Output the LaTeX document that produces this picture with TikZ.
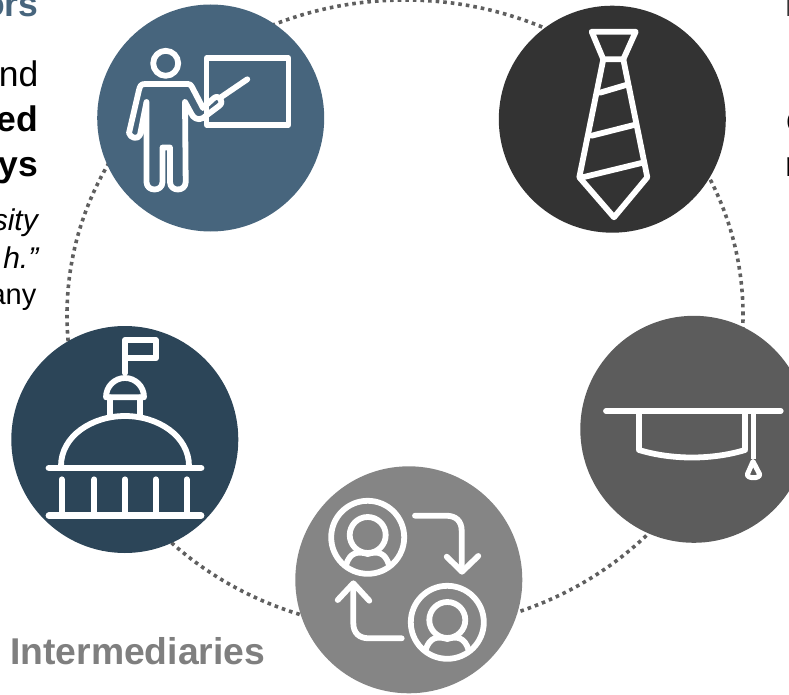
\documentclass[tikz,border=0pt]{standalone}
\usepackage{fontspec}
\setmainfont{Liberation Sans}
\definecolor{cteach}{HTML}{47657D}
\definecolor{ctie}{HTML}{333333}
\definecolor{ccap}{HTML}{5C5C5C}
\definecolor{cpers}{HTML}{858585}
\definecolor{cdome}{HTML}{2C4558}
\definecolor{cring}{HTML}{5F5F5F}
\definecolor{cinter}{HTML}{7F7F7F}
\tikzset{
  disc/.style={circle,inner sep=0pt,minimum size=227pt,fill=#1},
  ring/.style={draw=cring,line width=3.6pt,dash pattern=on 3.6pt off 4pt},
  icon/.style={draw=white,line width=5.8pt,line cap=round,line join=round},
  cut/.style={inner sep=0pt,anchor=base east},
  cutl/.style={inner sep=0pt,anchor=base west},
  big/.style={font=\fontsize{35.5}{35.5}\selectfont},
  bigb/.style={font=\fontsize{35.5}{35.5}\selectfont\bfseries},
  ital/.style={font=\fontsize{30}{30}\selectfont\itshape},
  small/.style={font=\fontsize{29}{29}\selectfont},
}
\begin{document}
\begin{tikzpicture}[x=1pt,y=-1pt]
\useasboundingbox (0,0) rectangle (789,695);
\clip (0,0) rectangle (789,695);
% ring
\draw[ring] (405,315) ellipse [x radius=338pt,y radius=315pt];
% discs
\node[disc=cteach] (teach) at (210.7,118) {};
\node[disc=ctie] (tie) at (612.3,119.2) {};
\node[disc=cdome] (dome) at (124.8,439.5) {};
\node[disc=cpers] (pers) at (408.8,579.8) {};
\node[disc=ccap] (cap) at (693.8,429.3) {};
% text
\node[cut,bigb,text=cteach] (t1) at (38.5,17) {ors};
\node[cut,big,text=black] (t2) at (38.5,87) {nd};
\node[cut,bigb,text=black] (t3) at (38.5,132) {ed};
\node[cut,bigb,text=black] (t4) at (38.5,177) {ys};
\node[cut,ital,text=black] (t5) at (38,230) {sity};
\node[cut,ital,text=black] (t6) at (38.5,268) {h.”};
\node[cut,small,text=black] (t7) at (36.5,304) {any};
\node[inner sep=0pt,anchor=base west,text=cinter,font=\fontsize{37.3}{37.3}\selectfont\bfseries] (t8) at (10,664) {Intermediaries};
\node[cutl,bigb,text=ctie] (r1) at (785,17) {I};
\node[cutl,big,text=black] (r2) at (786,132) {c};
\node[cutl,big,text=black] (r3) at (785,177) {r};
% teacher
\draw[icon] (165.7,63.3) circle [radius=12.5pt];
\draw[icon,line width=5.2pt] (206.5,58) rectangle (288.5,125);
\draw[icon] (247.3,79.3) -- (221.7,96.7);
\draw[icon] (185,102) -- (185.7,182) .. controls (185.7,192) and (170,192) .. (170,182) -- (170,147.5) -- (162.5,147.5) -- (162.5,182) .. controls (162.5,192) and (146.5,192) .. (146.5,182) -- (146.5,102) -- (140,135) .. controls (138,140) and (130,138) .. (129,133) -- (139,90) .. controls (140,86) and (141,84) .. (145,84) -- (188,84) .. controls (190,84) and (191,85) .. (192,87) -- (203,108) -- (214,98) .. controls (219,94) and (225,102) .. (219,106) -- (203,118) .. controls (198,121) and (193,118) .. (191,113) -- cycle;
% tie
\draw[icon] (591.7,31.7) -- (635.7,31.7) -- (623.3,59.3) -- (603.3,59.3) -- cycle;
\draw[icon] (603.3,59.3) -- (579.3,177.3) -- (614,217.3) -- (647.3,177.3) -- (623.3,59.3);
\draw[icon] (600,92.7) -- (626,85);
\draw[icon] (591.7,135.7) -- (634,125);
\draw[icon] (582.7,177.3) -- (642.7,162.7);
% capitol
\draw[icon] (125,373) -- (125,340) -- (156,340) -- (156,358.3) -- (125,358.3);
\draw[icon] (106,397.3) .. controls (106,386) and (115,378) .. (125,378) .. controls (135,378) and (144,386) .. (144,397.3) -- cycle;
\draw[icon] (110,397.3) -- (110,415);
\draw[icon] (140,397.3) -- (140,415);
\draw[icon] (61,466) .. controls (61,436) and (92,416) .. (125,416) .. controls (158,416) and (189,436) .. (189,466);
\draw[icon,line width=6.8pt] (49,468) -- (201,468);
\draw[icon,line width=6.8pt] (49,515.7) -- (201,515.7);
\foreach \cx in {61.7,94.3,125,155.7,186.7} \draw[icon] (\cx,479.3) -- (\cx,515);
% persons
\draw[icon] (367.7,537.3) circle [radius=36.5pt];
\draw[icon] (367.7,535) circle [radius=18pt];
\draw[icon] (346,565) .. controls (350,552) and (358,551) .. (367.7,554) .. controls (377,551) and (385,552) .. (389,565);
\draw[icon] (447.3,622.3) circle [radius=36.5pt];
\draw[icon] (447.3,620) circle [radius=18pt];
\draw[icon] (425.6,650) .. controls (429.6,637) and (437.6,636) .. (447.3,639) .. controls (456.6,636) and (464.6,637) .. (468.6,650);
\draw[icon] (415,515.7) -- (446,515.7) .. controls (456,515.7) and (461.7,521) .. (461.7,531) -- (461.7,571);
\draw[icon] (446.7,556.7) -- (462,571.7) -- (478.3,556);
\draw[icon] (401.7,638.3) -- (369,638.3) .. controls (359,638.3) and (353.3,633) .. (353.3,623) -- (353.3,584);
\draw[icon] (337.7,600) -- (353.3,583.3) -- (369.3,600.7);
% cap
\draw[icon] (606,411) -- (780.7,411);
\draw[icon,line cap=butt] (639,411) -- (639,450) .. controls (672,460) and (712,460) .. (745,450) -- (745,411);
\draw[icon,line cap=butt,line width=5.5pt] (753.3,411) -- (753.3,459);
\draw[icon,line width=5pt] (753,461.5) -- (759.5,474) .. controls (761,479) and (746,479) .. (747.5,474) -- cycle;
\end{tikzpicture}
\end{document}
